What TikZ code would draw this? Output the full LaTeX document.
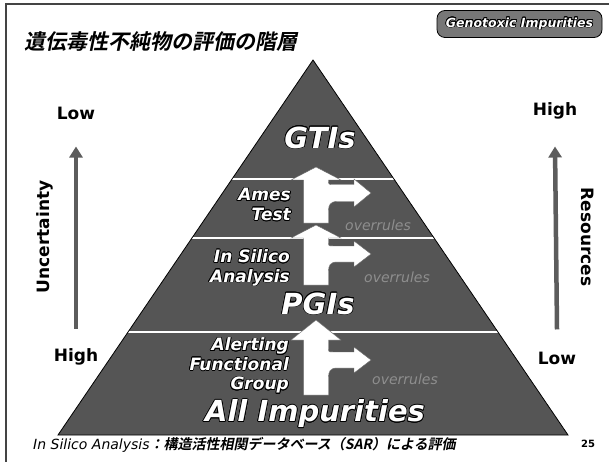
\documentclass[tikz,border=0pt]{standalone}
\usepackage{fontspec}
\usepackage[copies]{contour}
\usetikzlibrary{arrows.meta}
\newfontfamily\dvs{DejaVu Sans}[BoldFont={DejaVu Sans Bold},ItalicFont={DejaVu Sans Oblique},BoldItalicFont={DejaVu Sans Bold Oblique}]
\newfontfamily\cjkb{Noto Sans CJK JP Bold}[FakeSlant=0.2]
\definecolor{pyr}{HTML}{555555}
\definecolor{badge}{HTML}{777777}
\definecolor{faintc}{HTML}{8E8E8E}
\definecolor{sidec}{HTML}{5C5C5C}
\definecolor{framec}{HTML}{444444}
\contourlength{0.7pt}
\newcommand{\brarrow}[6]{%
  \fill[white,draw=black!60,line width=0.4pt]
   (316,#1) -- (341,#2) -- (328.5,#2) -- (328.5,{#3-#4-4})
   .. controls (328.5,{#3-#4}) .. (333,{#3-#4}) -- (354,{#3-#4}) -- (354,{#3-#5})
   -- (371,#3) -- (354,{#3+#5}) -- (354,{#3+#4}) -- (337,{#3+#4})
   .. controls (330,{#3+#4}) and (328.5,{#3+#4+4}) .. (328.5,{#3+#4+9})
   -- (328.5,#6) -- (303.5,#6) -- (303.5,#2) -- (291,#2) -- cycle;}
\begin{document}
\begin{tikzpicture}[x=1pt,y=-1pt,
  lab/.style={font=\dvs\bfseries\itshape\fontsize{17}{19.5}\selectfont,text=white,align=right,anchor=east,inner sep=0},
  big/.style={font=\dvs\bfseries\itshape\fontsize{29}{30}\selectfont,text=white,inner sep=0},
  side/.style={font=\dvs\bfseries\fontsize{17}{19}\selectfont,inner sep=0},
  faint/.style={font=\dvs\itshape\fontsize{14}{15}\selectfont,text=faintc,inner sep=0},
  sidearrow/.style={line width=4.5pt,draw=sidec,-{Triangle[width=13pt,length=11pt]}},
  band/.style={white,line width=2pt}]
\useasboundingbox (0,0) rectangle (609,462);
\fill[white] (0,0) rectangle (609,462);
% frame
\draw[framec,line width=1.6pt] (609,4) -- (6,4) -- (6,462);
% title
\node[inner sep=0,font=\cjkb\fontsize{21}{22}\selectfont] (title) at (161,42) {遺伝毒性不純物の評価の階層};
% badge
\node[draw=black,line width=0.8pt,fill=badge,rounded corners=8pt,minimum width=165pt,minimum height=27pt,inner sep=0,
      text=white,font=\dvs\bfseries\itshape\fontsize{12.5}{14}\selectfont] (badge) at (519.5,24) {\contour{black}{Genotoxic Impurities}};
% pyramid
\coordinate (apex) at (313,60);
\coordinate (bl) at (58,435);
\coordinate (br) at (568,435);
\fill[pyr] (apex) -- (bl) -- (br) -- cycle;
\begin{scope}
\clip (apex) -- (bl) -- (br) -- cycle;
\draw[band] (0,179) -- (609,179);
\draw[band] (0,238) -- (609,238);
\draw[band] (0,332) -- (609,332);
\end{scope}
\draw[black,line width=0.8pt] (apex) -- (bl) -- (br) -- cycle;
% faint texts
\node[faint] (ov1) at (378,225) {overrules};
\node[faint] (ov2) at (397,277) {overrules};
\node[faint] (ov3) at (405,379) {overrules};
% block arrows
\brarrow{167}{180}{193}{8.5}{14}{223}
\brarrow{225}{238}{254}{8}{13}{285}
\brarrow{320}{340}{360}{8}{13}{395}
% pyramid labels
\node[big] (gtis) at (320,138) {\contour{black}{GTIs}};
\node[big] (pgis) at (318,304) {\contour{black}{PGIs}};
\node[big] (all) at (315,414) {\contour{black}{All Impurities}};
\node[lab] (ames) at (291,205) {\contour{black}{Ames}\\\contour{black}{Test}};
\node[lab] (insilico) at (290,268) {\contour{black}{In Silico}\\\contour{black}{Analysis}};
\node[lab] (alert) at (289,366) {\contour{black}{Alerting}\\\contour{black}{Functional}\\\contour{black}{Group}};
% side labels
\node[side] (lowL) at (76,113) {Low};
\node[side] (highL) at (76,357) {High};
\node[side,rotate=90] (unc) at (45,237) {Uncertainty};
\draw[sidearrow] ([yshift=20pt]highL.north) -- ([yshift=-27pt]lowL.south);
\node[side] (highR) at (555,111) {High};
\node[side] (lowR) at (557,358) {Low};
\node[side,rotate=-90] (res) at (588,237) {Resources};
\draw[sidearrow] ([yshift=22pt]lowR.north) -- ([yshift=-27pt]highR.south);
% footer
\node[inner sep=0,anchor=west] (foot) at (33,445) {{\dvs\itshape\fontsize{14}{15}\selectfont In Silico Analysis}{\cjkb\fontsize{14}{15}\selectfont ：構造活性相関データベース（SAR）による評価}};
\node[inner sep=0,font=\dvs\bfseries\fontsize{10}{11}\selectfont] (page) at (588,444) {25};
\end{tikzpicture}
\end{document}
